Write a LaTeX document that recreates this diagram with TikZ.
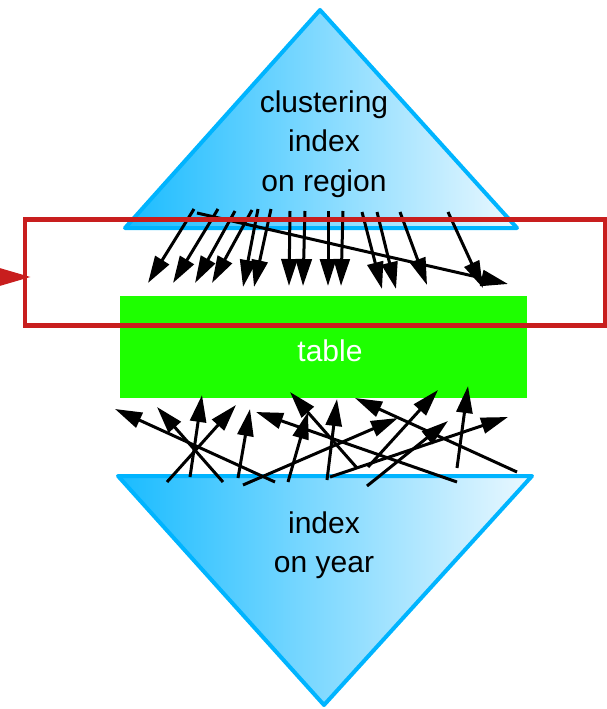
\documentclass[tikz,border=0pt]{standalone}
\usepackage{fontspec}
\setmainfont{Liberation Sans}
\usetikzlibrary{arrows.meta}
\definecolor{idxblue}{RGB}{0,180,255}
\definecolor{idxlight}{RGB}{235,248,255}
\definecolor{tblgreen}{RGB}{30,255,0}
\definecolor{hlred}{RGB}{200,30,30}
\tikzset{
  idx/.style={draw=idxblue, line width=4pt, line join=round, left color=idxblue!90, right color=idxlight},
  ptr/.style={line width=3pt, -{Triangle[length=27pt,width=16pt]}},
  lbl/.style={font=\fontsize{30}{39.5}\selectfont, align=center, inner sep=0pt},
}
\begin{document}
\begin{tikzpicture}[x=1pt,y=-1pt]
\useasboundingbox (0,0) rectangle (607,709);
% top index (triangle)
\path[idx] (320,10) -- (517,228) -- (125,228) -- cycle;
\node[lbl] (topidx) at (324,144) {clustering\\index\\on region};
% bottom index (inverted triangle)
\path[idx] (118,476) -- (532,476) -- (324,705) -- cycle;
\node[lbl] (botidx) at (324,545) {index\\on year};
% table
\node[fill=tblgreen, minimum width=407pt, minimum height=102pt, inner sep=0pt] (table) at (323.5,347) {};
\node[lbl, text=white] (tbltext) at (330,351) {table};
% arrows from the clustering index
\foreach \xa/\ya/\xb/\yb in {
  194/209/148/283, 218/209/173/283, 235/211/195/283, 252/210/212/283,
  258/209/243/287, 271/209/254/287, 290/211/289/286, 305/211/303/286,
  328/211/328/286, 343/211/341/286, 362/212/382/289, 377/212/396/289,
  400/212/427/285, 448/212/483/288, 197/213/508/284}
  \draw[ptr] (\xa,\ya) -- (\xb,\yb);
% arrows from the year index
\foreach \xa/\ya/\xb/\yb in {
  275/482/115/409, 223/482/157/407, 190/477/202/395, 167/482/236/405,
  238/478/250/409, 457/482/256/412, 288/482/308/412, 357/468/290/392,
  327/480/337/399, 243/485/398/418, 368/467/438/390, 517/472/355/398,
  330/477/508/417, 367/486/448/421, 457/468/468/386}
  \draw[ptr] (\xa,\ya) -- (\xb,\yb);
% highlight box and pointer
\node[draw=hlred, line width=4.5pt, minimum width=580pt, minimum height=106pt, inner sep=0pt] (hl) at (315,272.5) {};
\coordinate (hlsrc) at (-10,277);
\draw[hlred, line width=4pt, -{Triangle[length=40pt,width=22pt]}] (hlsrc) -- ([xshift=8pt]hl.west |- hlsrc);
\end{tikzpicture}
\end{document}
